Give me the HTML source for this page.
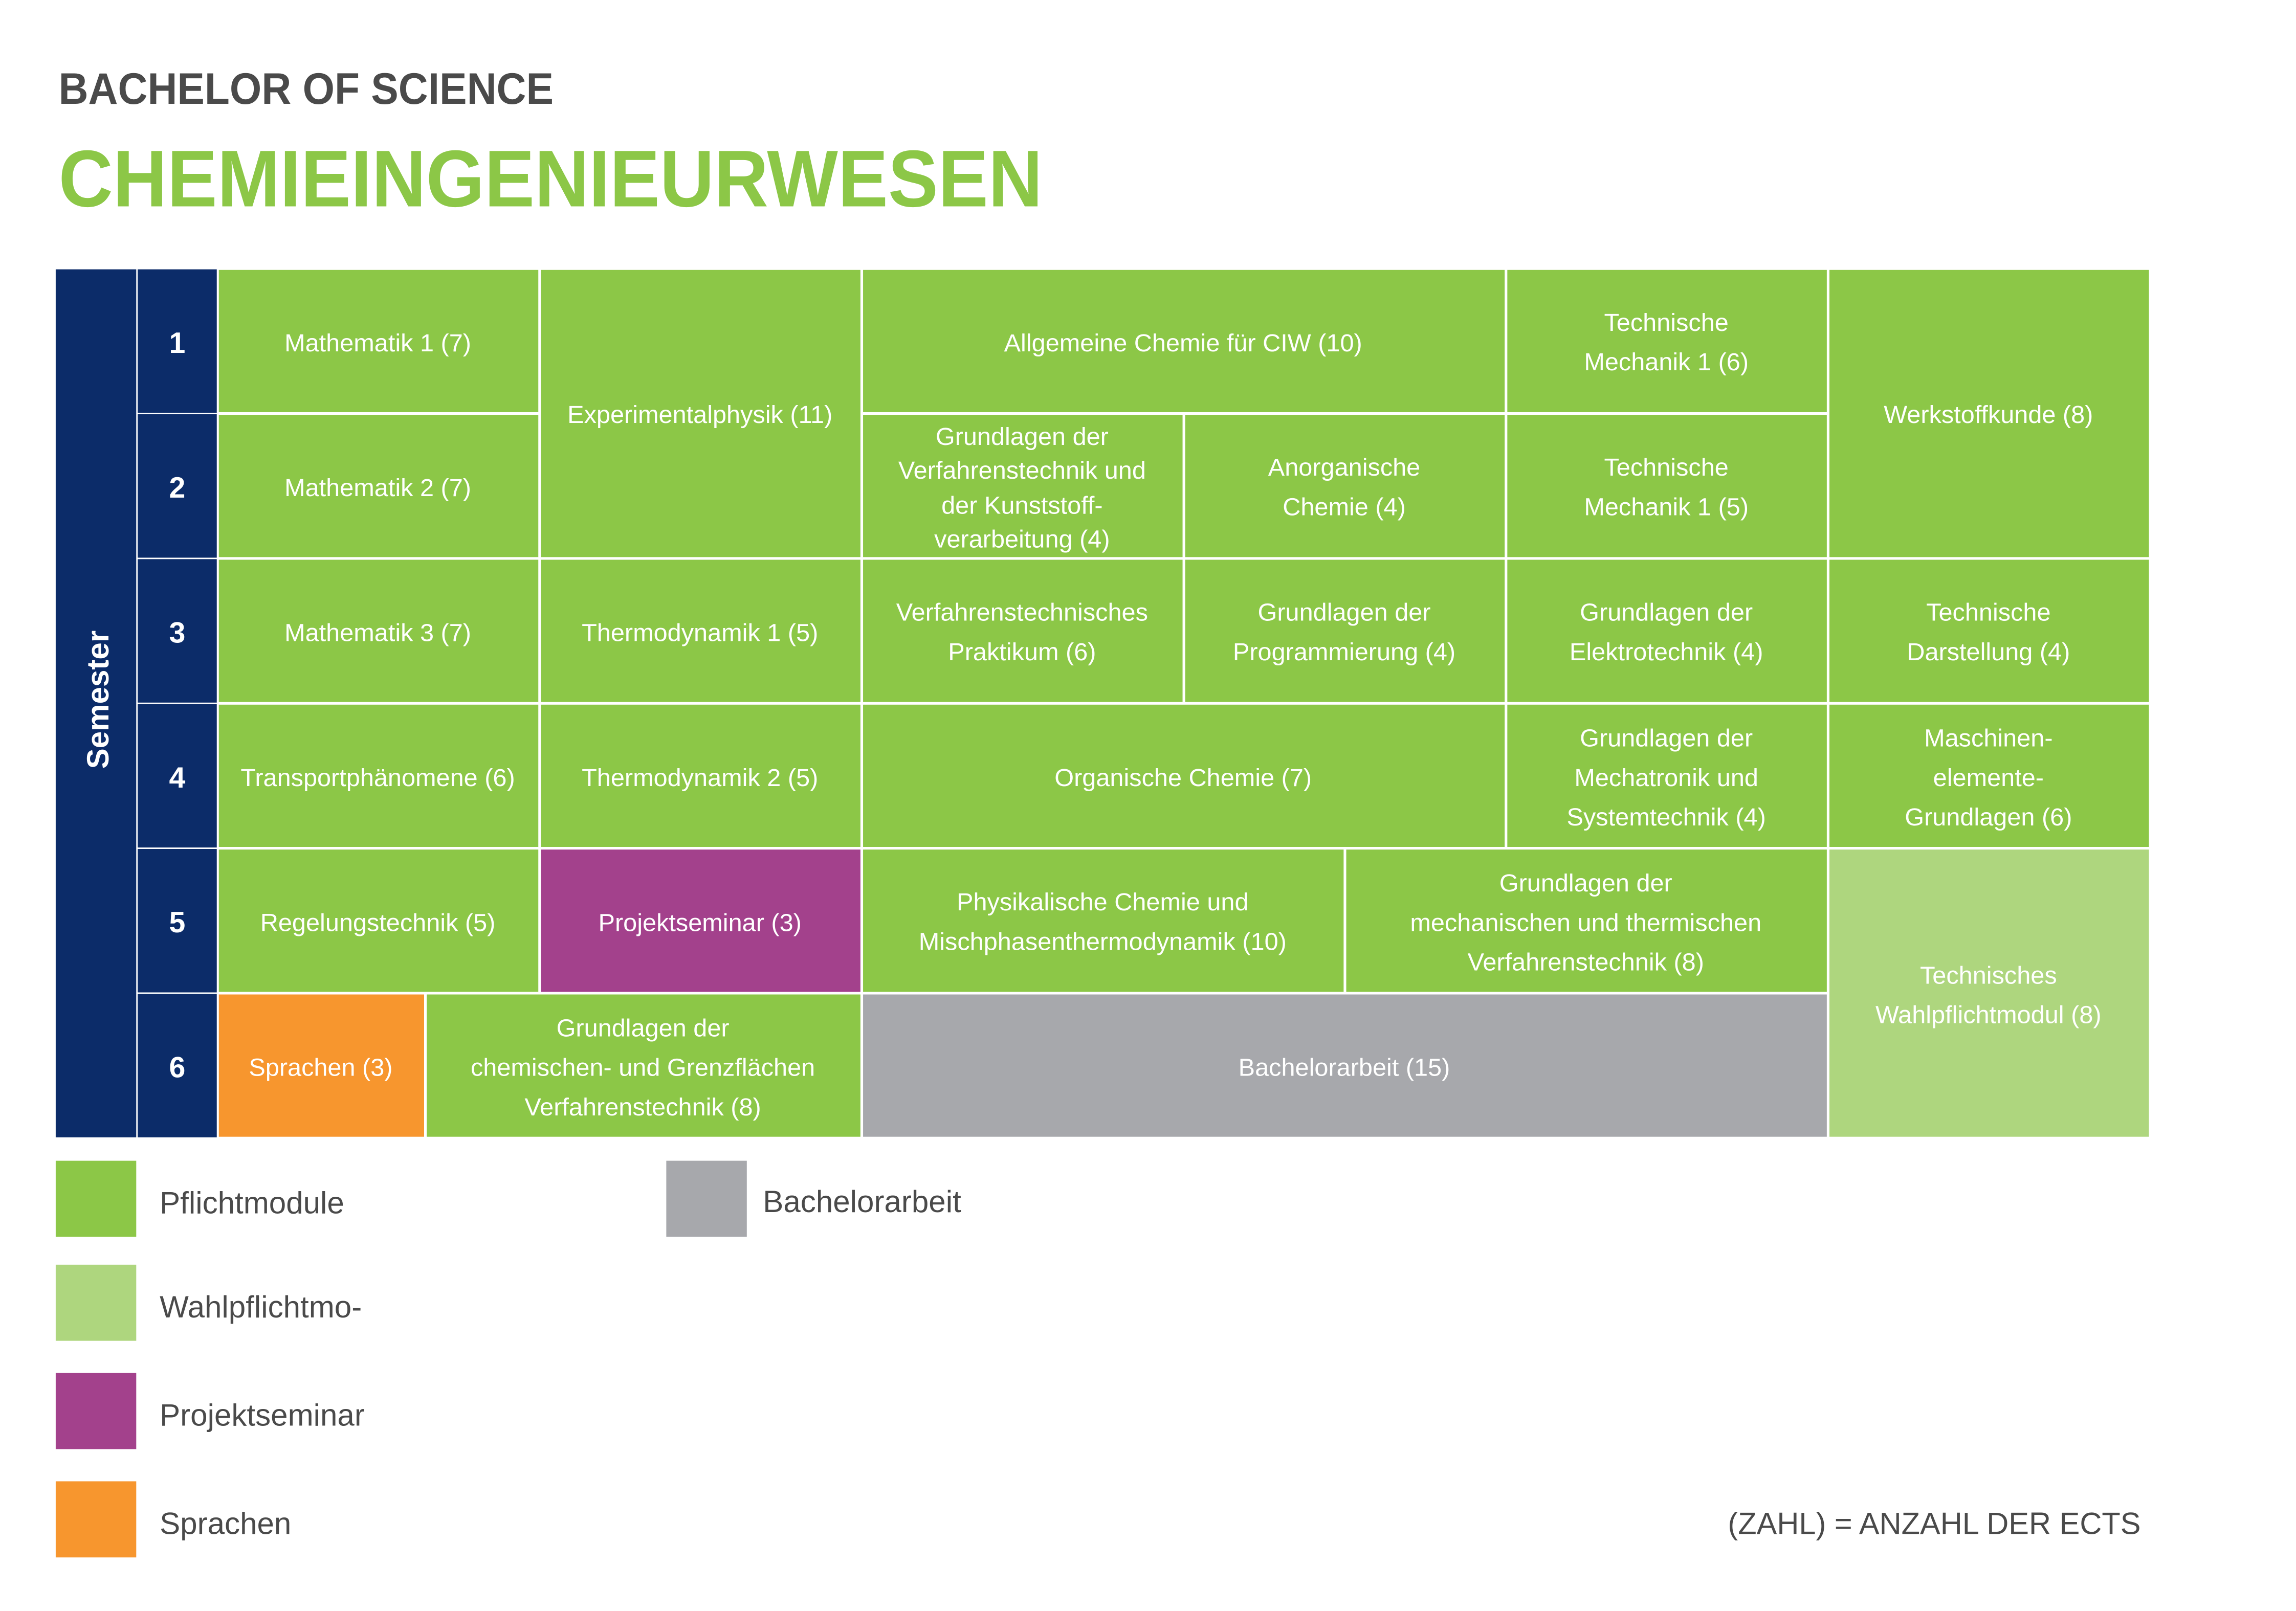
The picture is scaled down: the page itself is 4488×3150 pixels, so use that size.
<!DOCTYPE html>
<html><head><meta charset="utf-8"><style>html,body{margin:0;padding:0;background:#fff}svg{display:block}</style></head>
<body>
<svg xmlns="http://www.w3.org/2000/svg" width="4488" height="3150" viewBox="0 0 1568 1100.6" font-family="'Liberation Sans', sans-serif">
<rect width="1568" height="1101" fill="#fff"/>
<text x="40" y="71" font-size="30" font-weight="bold" fill="#4a4a4a" textLength="338" lengthAdjust="spacingAndGlyphs">BACHELOR OF SCIENCE</text>
<text x="40" y="141" font-size="55" font-weight="bold" fill="#8cc747" textLength="672" lengthAdjust="spacingAndGlyphs">CHEMIEINGENIEURWESEN</text>

<rect x="38" y="184" width="55" height="593" fill="#0c2c69"/>
<text transform="translate(74,478) rotate(-90)" text-anchor="middle" font-size="21" font-weight="bold" fill="#fff">Semester</text>
<g fill="#0c2c69">
<rect x="94" y="184" width="54" height="98"/><rect x="94" y="283" width="54" height="98"/>
<rect x="94" y="382" width="54" height="98"/><rect x="94" y="481" width="54" height="98"/>
<rect x="94" y="580" width="54" height="98"/><rect x="94" y="679" width="54" height="98"/>
</g>
<g fill="#fff" font-size="20" font-weight="bold" text-anchor="middle">
<text x="121" y="241">1</text><text x="121" y="340">2</text><text x="121" y="439">3</text>
<text x="121" y="538">4</text><text x="121" y="637">5</text><text x="121" y="736">6</text>
</g>

<g stroke="#fff" stroke-width="0.8">
<rect x="149" y="184" width="219" height="98" fill="#8cc747"/>
<rect x="369" y="184" width="219" height="197" fill="#8cc747"/>
<rect x="589" y="184" width="439" height="98" fill="#8cc747"/>
<rect x="1029" y="184" width="219" height="98" fill="#8cc747"/>
<rect x="1249" y="184" width="219" height="197" fill="#8cc747"/>
<rect x="149" y="283" width="219" height="98" fill="#8cc747"/>
<rect x="589" y="283" width="219" height="98" fill="#8cc747"/>
<rect x="809" y="283" width="219" height="98" fill="#8cc747"/>
<rect x="1029" y="283" width="219" height="98" fill="#8cc747"/>
<rect x="149" y="382" width="219" height="98" fill="#8cc747"/>
<rect x="369" y="382" width="219" height="98" fill="#8cc747"/>
<rect x="589" y="382" width="219" height="98" fill="#8cc747"/>
<rect x="809" y="382" width="219" height="98" fill="#8cc747"/>
<rect x="1029" y="382" width="219" height="98" fill="#8cc747"/>
<rect x="1249" y="382" width="219" height="98" fill="#8cc747"/>
<rect x="149" y="481" width="219" height="98" fill="#8cc747"/>
<rect x="369" y="481" width="219" height="98" fill="#8cc747"/>
<rect x="589" y="481" width="439" height="98" fill="#8cc747"/>
<rect x="1029" y="481" width="219" height="98" fill="#8cc747"/>
<rect x="1249" y="481" width="219" height="98" fill="#8cc747"/>
<rect x="149" y="580" width="219" height="98" fill="#8cc747"/>
<rect x="369" y="580" width="219" height="98" fill="#a3418c"/>
<rect x="589" y="580" width="329" height="98" fill="#8cc747"/>
<rect x="919" y="580" width="329" height="98" fill="#8cc747"/>
<rect x="1249" y="580" width="219" height="197" fill="#aed67e"/>
<rect x="149" y="679" width="141" height="98" fill="#f7962e"/>
<rect x="291" y="679" width="297" height="98" fill="#8cc747"/>
<rect x="589" y="679" width="659" height="98" fill="#a7a8ac"/>
</g>

<g fill="#fff" font-size="17" text-anchor="middle">
<text x="258" y="240">Mathematik 1 (7)</text>
<text x="478" y="289">Experimentalphysik (11)</text>
<text x="808" y="240">Allgemeine Chemie für CIW (10)</text>
<text x="1138" y="226">Technische</text><text x="1138" y="253">Mechanik 1 (6)</text>
<text x="1358" y="289">Werkstoffkunde (8)</text>
<text x="258" y="339">Mathematik 2 (7)</text>
<text x="698" y="304">Grundlagen der</text><text x="698" y="327">Verfahrenstechnik und</text><text x="698" y="351">der Kunststoff-</text><text x="698" y="374">verarbeitung (4)</text>
<text x="918" y="325">Anorganische</text><text x="918" y="352">Chemie (4)</text>
<text x="1138" y="325">Technische</text><text x="1138" y="352">Mechanik 1 (5)</text>
<text x="258" y="438">Mathematik 3 (7)</text>
<text x="478" y="438">Thermodynamik 1 (5)</text>
<text x="698" y="424">Verfahrenstechnisches</text><text x="698" y="451">Praktikum (6)</text>
<text x="918" y="424">Grundlagen der</text><text x="918" y="451">Programmierung (4)</text>
<text x="1138" y="424">Grundlagen der</text><text x="1138" y="451">Elektrotechnik (4)</text>
<text x="1358" y="424">Technische</text><text x="1358" y="451">Darstellung (4)</text>
<text x="258" y="537">Transportphänomene (6)</text>
<text x="478" y="537">Thermodynamik 2 (5)</text>
<text x="808" y="537">Organische Chemie (7)</text>
<text x="1138" y="510">Grundlagen der</text><text x="1138" y="537">Mechatronik und</text><text x="1138" y="564">Systemtechnik (4)</text>
<text x="1358" y="510">Maschinen-</text><text x="1358" y="537">elemente-</text><text x="1358" y="564">Grundlagen (6)</text>
<text x="258" y="636">Regelungstechnik (5)</text>
<text x="478" y="636">Projektseminar (3)</text>
<text x="753" y="622">Physikalische Chemie und</text><text x="753" y="649">Mischphasenthermodynamik (10)</text>
<text x="1083" y="609">Grundlagen der</text><text x="1083" y="636">mechanischen und thermischen</text><text x="1083" y="663">Verfahrenstechnik (8)</text>
<text x="1358" y="672">Technisches</text><text x="1358" y="699">Wahlpflichtmodul (8)</text>
<text x="219" y="735">Sprachen (3)</text>
<text x="439" y="708">Grundlagen der</text><text x="439" y="735">chemischen- und Grenzflächen</text><text x="439" y="762">Verfahrenstechnik (8)</text>
<text x="918" y="735">Bachelorarbeit (15)</text>
</g>

<rect x="38" y="793" width="55" height="52" fill="#8cc747"/>
<rect x="38" y="864" width="55" height="52" fill="#aed67e"/>
<rect x="38" y="938" width="55" height="52" fill="#a3418c"/>
<rect x="38" y="1012" width="55" height="52" fill="#f7962e"/>
<rect x="455" y="793" width="55" height="52" fill="#a7a8ac"/>
<g fill="#4a4a4a" font-size="21">
<text x="109" y="829">Pflichtmodule</text>
<text x="109" y="900">Wahlpflichtmo-</text>
<text x="109" y="974">Projektseminar</text>
<text x="109" y="1048">Sprachen</text>
<text x="521" y="828">Bachelorarbeit</text>
<text x="1462" y="1048" text-anchor="end" textLength="282" lengthAdjust="spacingAndGlyphs">(ZAHL) = ANZAHL DER ECTS</text>
</g>
</svg>
</body></html>
